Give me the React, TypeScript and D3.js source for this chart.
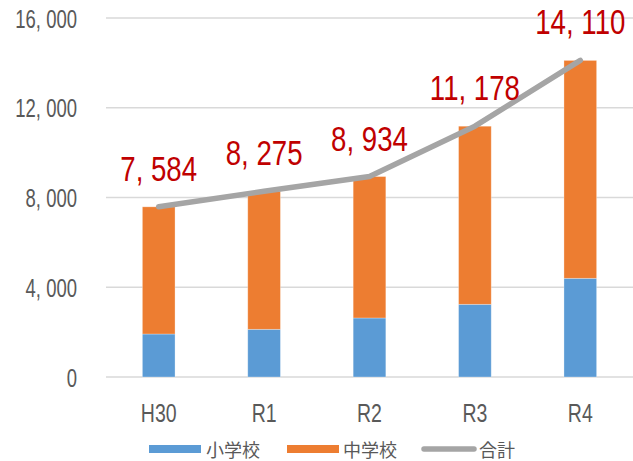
import * as d3 from "d3";

const years = ["H30", "R1", "R2", "R3", "R4"];
const elementary = [1916, 2126, 2630, 3240, 4399];
const juniorHigh = [5668, 6149, 6304, 7938, 9711];
const totals = [7584, 8275, 8934, 11178, 14110];
const yTicks = [0, 4000, 8000, 12000, 16000];

const colors = {
  elementary: "#5B9BD5",
  junior: "#ED7D31",
  total: "#A5A5A5",
  label: "#C00000",
  text: "#595959",
  grid: "#D9D9D9",
};

const cjk = "'Noto Sans CJK JP', 'Noto Sans', sans-serif";

// 3桁区切り（元図は「7, 584」のように空白入り）
const fmt = (v: number) => d3.format(",")(v).replace(",", ", ");

// 細い字体がないので Liberation Sans を横に縮める
function Narrow(props: {
  x: number;
  y: number;
  size: number;
  squeeze: number;
  fill: string;
  anchor: "start" | "middle" | "end";
  children: string;
}) {
  return (
    <text
      transform={`translate(${props.x},${props.y}) scale(${props.squeeze},1)`}
      textAnchor={props.anchor}
      fontFamily="'Liberation Sans', Arial, sans-serif"
      fontSize={props.size}
      fill={props.fill}
    >
      {props.children}
    </text>
  );
}

export default function App() {
  const width = 633;
  const height = 461;
  const left = 106;
  const right = 633;
  const top = 18;
  const bottom = 377;

  const x = d3.scaleBand().domain(years).range([left, right]).paddingInner(0.69).paddingOuter(0.345);
  const y = d3.scaleLinear().domain([0, 16000]).range([bottom, top]);
  const cx = (d: string) => (x(d) ?? 0) + x.bandwidth() / 2;

  const line = d3
    .line<number>()
    .x((_, i) => cx(years[i]))
    .y((d) => y(d));

  return (
    <div style={{ position: "absolute", left: 0, top: 0 }}>
      <svg width={width} height={height} style={{ display: "block", background: "#fff" }}>
        {/* 目盛り線 */}
        {yTicks.map((t) => (
          <g key={t}>
            <line x1={left} x2={right} y1={y(t)} y2={y(t)} stroke={colors.grid} strokeWidth={1.5} />
            <Narrow x={77} y={y(t) + 9.5} size={25} squeeze={0.74} fill={colors.text} anchor="end">
              {fmt(t)}
            </Narrow>
          </g>
        ))}

        {/* 積み上げ棒 */}
        {years.map((yr, i) => (
          <g key={yr}>
            <rect
              x={x(yr)}
              y={y(elementary[i])}
              width={x.bandwidth()}
              height={y(0) - y(elementary[i])}
              fill={colors.elementary}
              stroke="#fff"
              strokeOpacity={0.4}
              strokeWidth={0.75}
            />
            <rect
              x={x(yr)}
              y={y(elementary[i] + juniorHigh[i])}
              width={x.bandwidth()}
              height={y(elementary[i]) - y(elementary[i] + juniorHigh[i])}
              fill={colors.junior}
              stroke="#fff"
              strokeOpacity={0.4}
              strokeWidth={0.75}
            />
            <Narrow x={cx(yr)} y={422} size={25} squeeze={0.78} fill={colors.text} anchor="middle">
              {yr}
            </Narrow>
          </g>
        ))}

        {/* 合計の折れ線 */}
        <path
          d={line(totals) ?? ""}
          fill="none"
          stroke={colors.total}
          strokeWidth={5.5}
          strokeLinecap="round"
          strokeLinejoin="round"
        />
        {totals.map((v, i) => (
          <Narrow key={i} x={cx(years[i])} y={y(v) - 26} size={35} squeeze={0.79} fill={colors.label} anchor="middle">
            {fmt(v)}
          </Narrow>
        ))}

        {/* 凡例 */}
        <g fontFamily={cjk} fontSize={18} fill={colors.text}>
          <rect x={149} y={445} width={52} height={8} fill={colors.elementary} />
          <text x={206} y={449} dominantBaseline="central">小学校</text>
          <rect x={287} y={445} width={52} height={8} fill={colors.junior} />
          <text x={343} y={449} dominantBaseline="central">中学校</text>
          <line x1={424} x2={474} y1={449} y2={449} stroke={colors.total} strokeWidth={5.5} strokeLinecap="round" />
          <text x={479} y={449} dominantBaseline="central">合計</text>
        </g>
      </svg>
    </div>
  );
}
